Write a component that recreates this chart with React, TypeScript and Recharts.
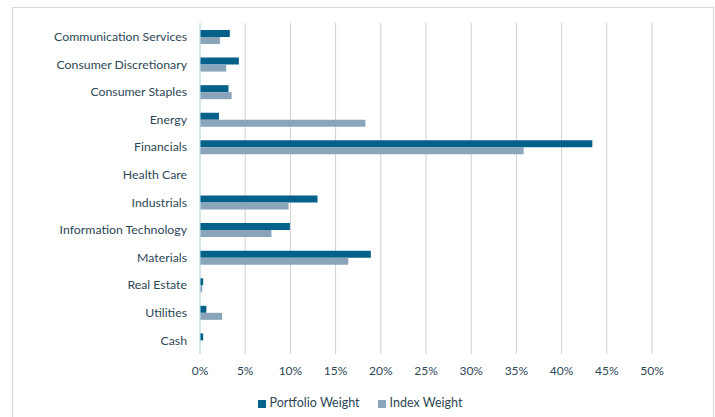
import React from 'react';
import { BarChart, Bar, XAxis, YAxis, CartesianGrid, Legend } from 'recharts';

const sectors = [
  'Communication Services',
  'Consumer Discretionary',
  'Consumer Staples',
  'Energy',
  'Financials',
  'Health Care',
  'Industrials',
  'Information Technology',
  'Materials',
  'Real Estate',
  'Utilities',
  'Cash',
];
const portfolioWeight = [3.3, 4.3, 3.15, 2.1, 43.4, 0, 13.0, 9.95, 18.9, 0.35, 0.7, 0.35];
const indexWeight = [2.2, 2.9, 3.5, 18.3, 35.8, 0, 9.8, 7.9, 16.4, 0.25, 2.45, 0];
const xTicks = [0, 5, 10, 15, 20, 25, 30, 35, 40, 45, 50];
const seriesOrder = ['Portfolio Weight', 'Index Weight'];

const data = sectors.map((name, i) => ({
  name,
  portfolio: portfolioWeight[i],
  index: indexWeight[i],
}));

const textColor = '#2c4756';
const font = 'Lato, sans-serif';

const App: React.FC = () => {
  return (
    <div style={{ position: 'fixed', left: 0, top: 0, width: 715, height: 417, background: '#fff', overflow: 'hidden' }}>
      {/* outer frame */}
      <div style={{ position: 'absolute', left: 12, top: 7, width: 700, height: 430, border: '1px solid #d9d9d9' }} />
      <div style={{ position: 'absolute', left: 0, top: 0 }}>
        <BarChart
          width={715}
          height={417}
          data={data}
          layout="vertical"
          margin={{ top: 23, right: 63, left: 0, bottom: 11 }}
          barSize={7}
          barGap={0}
        >
          <CartesianGrid horizontal={false} stroke="#d0d0d0" />
          <XAxis
            type="number"
            domain={[0, 50]}
            ticks={xTicks}
            tickFormatter={(v: number) => `${v}%`}
            axisLine={false}
            tickLine={false}
            tickMargin={6}
            height={30}
            tick={{ fill: textColor, fontSize: 12, fontFamily: font }}
          />
          <YAxis
            type="category"
            dataKey="name"
            width={200}
            axisLine={{ stroke: '#bfe3f2' }}
            tickLine={false}
            tickMargin={7}
            interval={0}
            tick={{ fill: textColor, fontSize: 12.3, fontFamily: font }}
          />
          <Legend
            verticalAlign="bottom"
            align="center"
            iconType="square"
            iconSize={8}
            itemSorter={(item: any) => seriesOrder.indexOf(item.value)}
            wrapperStyle={{
              fontFamily: font,
              fontSize: 12.5,
              height: 22,
              lineHeight: '22px',
              bottom: 3,
              left: 15,
              width: 700,
            }}
            formatter={(value: string) => (
              <span style={{ color: textColor, marginRight: value === seriesOrder[0] ? 8 : 0 }}>{value}</span>
            )}
          />
          <Bar dataKey="portfolio" name="Portfolio Weight" fill="#03618a" isAnimationActive={false} />
          <Bar dataKey="index" name="Index Weight" fill="#8aa4ba" isAnimationActive={false} />
        </BarChart>
      </div>
    </div>
  );
};

export default App;
